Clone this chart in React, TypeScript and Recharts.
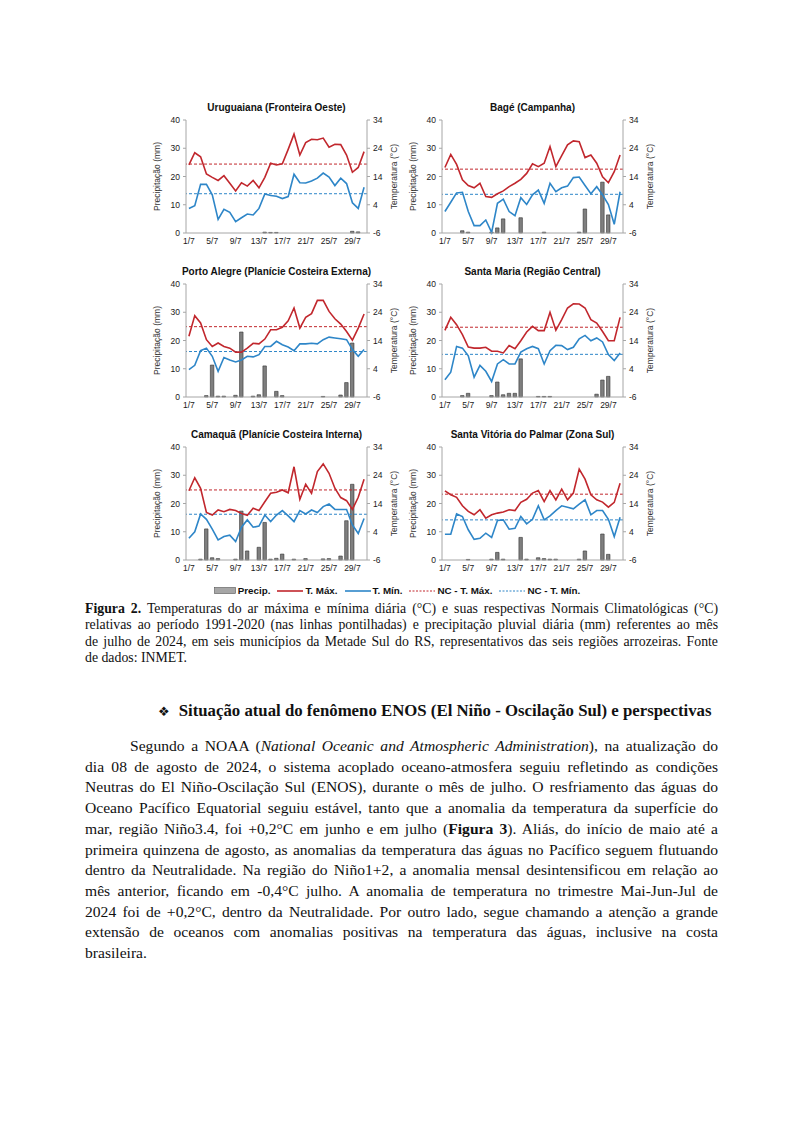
import { ComposedChart, Bar, Line, XAxis, YAxis, ReferenceLine } from "recharts";

const DAYS = [
  "1/7", "2/7", "3/7", "4/7", "5/7", "6/7", "7/7", "8/7", "9/7", "10/7",
  "11/7", "12/7", "13/7", "14/7", "15/7", "16/7", "17/7", "18/7", "19/7", "20/7",
  "21/7", "22/7", "23/7", "24/7", "25/7", "26/7", "27/7", "28/7", "29/7", "30/7", "31/7",
];
const PREC_TICKS = [0, 10, 20, 30, 40];
const TEMP_TICKS = [-6, -1, 4, 9, 14, 19, 24, 29, 34];

// Uruguaiana (Fronteira Oeste)
const uruTmax = [18.1, 22.4, 21.0, 14.9, 13.7, 12.6, 14.3, 11.6, 8.9, 11.8, 10.6, 12.6, 10.0, 13.7, 18.7, 18.1, 18.5, 23.6, 29.0, 21.6, 26.0, 27.2, 27.0, 27.6, 24.4, 25.4, 25.3, 21.6, 15.5, 17.2, 22.8];
const uruTmin = [2.7, 3.7, 11.2, 11.2, 7.5, -1.2, 2.4, 1.3, -2.0, -0.6, 0.7, 0.4, 2.7, 7.8, 7.3, 7.0, 6.2, 6.9, 14.8, 11.8, 11.7, 12.4, 13.4, 15.2, 13.8, 10.8, 13.4, 11.5, 4.7, 2.7, 10.2];
const uruPrec = [0, 0, 0, 0, 0, 0, 0, 0, 0, 0, 0, 0, 0, 0.3, 0.2, 0.2, 0, 0, 0, 0, 0, 0, 0, 0, 0, 0, 0, 0, 0.6, 0.4, 0];

// Bagé (Campanha)
const bageTmax = [17.2, 21.8, 18.3, 12.8, 10.8, 10.0, 11.6, 6.9, 6.6, 7.9, 8.9, 10.4, 11.6, 13.0, 15.1, 18.5, 17.5, 18.7, 24.6, 17.5, 21.4, 25.2, 26.6, 26.3, 20.7, 21.6, 18.7, 13.9, 11.8, 15.7, 21.6];
const bageTmin = [1.6, 4.9, 8.2, 8.4, 1.6, -3.4, -3.4, -1.4, -5.8, 4.5, 6.0, 1.6, 0.1, 6.5, 4.1, 7.5, 9.2, 4.5, 11.6, 8.6, 10.0, 10.6, 13.6, 13.8, 10.8, 7.9, 10.4, 7.5, 4.1, -2.9, 8.6];
const bagePrec = [0, 0, 0, 0.8, 0.3, 0, 0, 0, 0.3, 1.8, 5.0, 0, 0, 5.4, 0, 0, 0, 0.3, 0, 0, 0, 0, 0, 0.3, 8.5, 0, 0, 18.0, 6.4, 0, 0];

// Porto Alegre (Planície Costeira Externa)
const paTmax = [15.5, 22.8, 20.2, 14.3, 11.9, 13.1, 11.9, 11.3, 9.9, 9.9, 11.3, 13.0, 12.8, 14.5, 17.8, 17.8, 18.7, 21.0, 25.5, 18.4, 22.2, 23.5, 28.2, 28.2, 24.3, 21.7, 19.8, 17.2, 14.1, 18.4, 23.4];
const paTmin = [3.7, 5.2, 10.4, 11.3, 8.4, 3.1, 8.0, 7.1, 6.4, 7.1, 8.4, 8.2, 9.0, 11.9, 11.9, 13.7, 12.5, 11.7, 10.4, 12.8, 12.8, 13.0, 12.8, 14.3, 15.2, 14.9, 14.6, 14.3, 10.8, 8.4, 10.8];
const paPrec = [0, 0, 0, 0.5, 11.3, 0.3, 0.3, 0, 0.6, 23.0, 0, 0.3, 0.8, 11.0, 0, 2.0, 0.5, 0, 0, 0, 0, 0, 0, 0.2, 0, 0, 0.7, 5.1, 19.1, 0, 0];

// Santa Maria (Região Central)
const smTmax = [17.6, 22.2, 19.6, 16.1, 11.7, 11.3, 11.3, 11.6, 10.2, 10.2, 9.6, 12.2, 11.1, 13.9, 17.0, 19.0, 17.5, 17.5, 24.0, 17.6, 21.4, 25.5, 27.0, 26.9, 25.5, 21.4, 20.2, 17.2, 13.9, 13.9, 22.2];
const smTmin = [0.1, 2.8, 11.9, 11.3, 8.6, 1.0, 5.2, 3.1, -0.5, 5.7, 7.2, 5.7, 5.7, 9.9, 11.1, 11.9, 11.1, 5.7, 10.4, 12.3, 12.2, 10.8, 11.6, 14.6, 15.8, 13.9, 14.9, 13.5, 9.0, 6.9, 9.6];
const smPrec = [0, 0, 0, 0.5, 1.3, 0, 0, 0, 0.5, 5.3, 0.8, 1.3, 1.3, 13.5, 0, 0, 0.2, 0.2, 0.2, 0, 0, 0, 0, 0, 0, 0, 1.0, 6.0, 7.3, 0, 0];

// Camaquã (Planície Costeira Interna)
const camTmax = [18.5, 23.1, 19.4, 10.8, 9.9, 11.7, 11.1, 11.9, 11.5, 10.5, 9.8, 12.3, 11.5, 14.6, 17.6, 18.0, 18.8, 17.8, 27.0, 15.5, 20.8, 17.6, 25.3, 28.0, 24.7, 19.4, 16.1, 15.0, 11.9, 16.2, 22.6];
const camTmin = [1.7, 4.0, 10.3, 8.4, 4.9, 1.1, 2.3, 2.8, 0.5, 5.6, 8.2, 5.6, 6.0, 9.9, 7.6, 9.9, 11.5, 9.6, 7.6, 11.5, 10.3, 11.7, 10.8, 12.9, 13.8, 11.9, 11.9, 11.9, 6.4, 3.4, 8.7];
const camPrec = [0, 0, 0.3, 11.0, 0.8, 0.5, 0, 0, 0.3, 17.3, 3.2, 0, 4.5, 13.3, 0.3, 0.6, 2.1, 0, 0.3, 0, 0.5, 0, 0, 0.4, 0.5, 0, 1.4, 13.9, 26.8, 0, 0];

// Santa Vitória do Palmar (Zona Sul)
const svpTmax = [18.5, 17.1, 16.2, 13.2, 11.2, 10.0, 11.8, 8.8, 10.0, 10.6, 11.0, 11.8, 11.5, 14.4, 15.5, 17.7, 18.6, 14.7, 18.6, 15.3, 19.1, 15.3, 17.7, 26.2, 22.6, 17.1, 15.3, 14.5, 12.7, 14.4, 21.2];
const svpTmin = [3.1, 3.1, 10.3, 9.4, 4.7, 1.3, 1.7, 3.5, 2.0, 8.0, 8.2, 4.9, 5.2, 9.4, 6.8, 8.4, 13.2, 8.2, 9.6, 11.5, 13.2, 12.7, 12.1, 13.8, 15.3, 10.0, 11.5, 11.5, 8.4, 2.3, 9.1];
const svpPrec = [0, 0, 0, 0, 0.2, 0, 0, 0, 0.3, 2.7, 0.3, 0, 0, 8.0, 0.3, 0, 0.8, 0.5, 0.3, 0.3, 0, 0, 0, 0.3, 3.2, 0, 0, 9.2, 2.0, 0, 0];

// normais climatológicas 1991-2020 (°C)
const ncMax = [18.4, 16.6, 18.9, 18.7, 18.8, 17.3];
const ncMin = [7.9, 7.7, 10.1, 9.1, 10.2, 8.2];

const stations = [
  { title: "Uruguaiana (Fronteira Oeste)", tmax: uruTmax, tmin: uruTmin, prec: uruPrec, col: 0, row: 0 },
  { title: "Bagé (Campanha)", tmax: bageTmax, tmin: bageTmin, prec: bagePrec, col: 1, row: 0 },
  { title: "Porto Alegre (Planície Costeira Externa)", tmax: paTmax, tmin: paTmin, prec: paPrec, col: 0, row: 1 },
  { title: "Santa Maria (Região Central)", tmax: smTmax, tmin: smTmin, prec: smPrec, col: 1, row: 1 },
  { title: "Camaquã (Planície Costeira Interna)", tmax: camTmax, tmin: camTmin, prec: camPrec, col: 0, row: 2 },
  { title: "Santa Vitória do Palmar (Zona Sul)", tmax: svpTmax, tmin: svpTmin, prec: svpPrec, col: 1, row: 2 },
];

const RED = "#c1272d";
const BLUE = "#2e86c8";
const AXIS = "#a6a6a6";
const SANS = "'Liberation Sans', Arial, sans-serif";
const SERIF = "'Liberation Serif', 'Times New Roman', serif";

const PLOT_LEFT = [186, 442];
const PLOT_TOP = [120, 284, 447];
const PLOT_W = 181;
const PLOT_H = 113;
const AX_W = 38;
const TOP_M = 22;
const X_H = 18;

const tickStyle = { fontSize: 8.5, fill: "#1a1a1a", fontFamily: SANS };

function StationChart({ s, idx }: { s: any; idx: number }) {
  const data = DAYS.map((d, i) => ({ day: d, tmax: s.tmax[i], tmin: s.tmin[i], prec: s.prec[i] }));
  const left = PLOT_LEFT[s.col] - AX_W;
  const top = PLOT_TOP[s.row] - TOP_M;
  const w = AX_W * 2 + PLOT_W;
  const h = TOP_M + PLOT_H + X_H;
  return (
    <div style={{ position: "absolute", left, top, width: w, height: h }}>
      <div
        style={{
          position: "absolute",
          left: AX_W - 20,
          width: PLOT_W + 40,
          top: 4,
          textAlign: "center",
          fontFamily: SANS,
          fontWeight: "bold",
          fontSize: 10,
          whiteSpace: "nowrap",
          color: "#111",
        }}
      >
        {s.title}
      </div>
      <ComposedChart width={w} height={h} data={data} margin={{ top: TOP_M, right: 0, bottom: 0, left: 0 }}>
        <XAxis
          dataKey="day"
          interval={3}
          tick={tickStyle}
          tickLine={false}
          tickSize={3}
          tickMargin={2}
          axisLine={{ stroke: AXIS }}
          height={X_H}
        />
        <XAxis xAxisId="top" orientation="top" dataKey="day" tick={false} tickLine={false} axisLine={{ stroke: "#c8c8c8" }} height={0} />
        <YAxis
          yAxisId="p"
          domain={[0, 40]}
          ticks={PREC_TICKS}
          width={AX_W}
          tick={tickStyle}
          tickSize={3}
          tickMargin={3}
          tickLine={{ stroke: AXIS }}
          axisLine={{ stroke: AXIS }}
          label={{ value: "Precipitação (mm)", angle: -90, position: "center", dx: -10, style: { fontSize: 8.5, fill: "#333", fontFamily: SANS } }}
        />
        <YAxis
          yAxisId="t"
          orientation="right"
          domain={[-6, 34]}
          ticks={TEMP_TICKS}
          width={AX_W}
          tick={tickStyle}
          tickSize={3}
          tickMargin={3}
          tickLine={{ stroke: AXIS }}
          axisLine={{ stroke: AXIS }}
          label={{ value: "Temperatura (°C)", angle: -90, position: "center", dx: 8, style: { fontSize: 8.5, fill: "#333", fontFamily: SANS } }}
        />
        <Bar yAxisId="p" dataKey="prec" fill="#7f7f7f" stroke="#333" strokeWidth={0.6} barSize={3.5} isAnimationActive={false} />
        <ReferenceLine yAxisId="t" y={ncMax[idx]} stroke={RED} strokeWidth={1} strokeDasharray="3 2" />
        <ReferenceLine yAxisId="t" y={ncMin[idx]} stroke={BLUE} strokeWidth={1} strokeDasharray="3 2" />
        <Line yAxisId="t" dataKey="tmax" stroke={RED} strokeWidth={1.6} dot={false} isAnimationActive={false} />
        <Line yAxisId="t" dataKey="tmin" stroke={BLUE} strokeWidth={1.6} dot={false} isAnimationActive={false} />
      </ComposedChart>
    </div>
  );
}

function LegendLine({ color, dashed }: { color: string; dashed?: boolean }) {
  return (
    <svg width={26} height={6} style={{ marginRight: 2 }}>
      <line x1={0} y1={3} x2={26} y2={3} stroke={color} strokeWidth={dashed ? 1 : 1.6} strokeDasharray={dashed ? "2 1.5" : undefined} />
    </svg>
  );
}

const legendItem = { display: "flex", alignItems: "center", marginRight: 7 };

function SharedLegend() {
  return (
    <div
      style={{
        position: "absolute",
        left: 0,
        width: 801,
        top: 585,
        display: "flex",
        justifyContent: "center",
        fontFamily: SANS,
        fontWeight: "bold",
        fontSize: 9.8,
        color: "#111",
      }}
    >
      <div style={legendItem}>
        <svg width={22} height={7} style={{ marginRight: 2 }}>
          <rect x={0.5} y={0.5} width={21} height={6} fill="#a6a6a6" stroke="#555" strokeWidth={0.6} />
        </svg>
        Precip.
      </div>
      <div style={legendItem}>
        <LegendLine color={RED} />
        T. Máx.
      </div>
      <div style={legendItem}>
        <LegendLine color={BLUE} />
        T. Mín.
      </div>
      <div style={legendItem}>
        <LegendLine color={RED} dashed />
        NC - T. Máx.
      </div>
      <div style={legendItem}>
        <LegendLine color={BLUE} dashed />
        NC - T. Mín.
      </div>
    </div>
  );
}

const justLine = { textAlign: "justify" as const, textAlignLast: "justify" as const, whiteSpace: "normal" as const };

const caption = [
  <>
    <b>Figura 2.</b> Temperaturas do ar máxima e mínima diária (°C) e suas respectivas Normais Climatológicas (°C)
  </>,
  <>relativas ao período 1991-2020 (nas linhas pontilhadas) e precipitação pluvial diária (mm) referentes ao mês</>,
  <>de julho de 2024, em seis municípios da Metade Sul do RS, representativos das seis regiões arrozeiras. Fonte</>,
];

const body = [
  <>
    Segundo a NOAA (<i>National Oceanic and Atmospheric Administration</i>), na atualização do
  </>,
  <>dia 08 de agosto de 2024, o sistema acoplado oceano-atmosfera seguiu refletindo as condições</>,
  <>Neutras do El Niño-Oscilação Sul (ENOS), durante o mês de julho. O resfriamento das águas do</>,
  <>Oceano Pacífico Equatorial seguiu estável, tanto que a anomalia da temperatura da superfície do</>,
  <>
    mar, região Niño3.4, foi +0,2°C em junho e em julho (<b>Figura 3</b>). Aliás, do início de maio até a
  </>,
  <>primeira quinzena de agosto, as anomalias da temperatura das águas no Pacífico seguem flutuando</>,
  <>dentro da Neutralidade. Na região do Niño1+2, a anomalia mensal desintensificou em relação ao</>,
  <>mês anterior, ficando em -0,4°C julho. A anomalia de temperatura no trimestre Mai-Jun-Jul de</>,
  <>2024 foi de +0,2°C, dentro da Neutralidade. Por outro lado, segue chamando a atenção a grande</>,
  <>extensão de oceanos com anomalias positivas na temperatura das águas, inclusive na costa</>,
];

export default function App() {
  return (
    <div style={{ position: "absolute", left: 0, top: 0, width: 801, height: 1132, background: "#fff", overflow: "hidden" }}>
      {stations.map((s, i) => (
        <StationChart key={s.title} s={s} idx={i} />
      ))}
      <SharedLegend />
      <div style={{ position: "absolute", left: 85, top: 601, width: 633, fontFamily: SERIF, fontSize: 13.8, lineHeight: "16.3px", color: "#111" }}>
        {caption.map((c, i) => (
          <div key={i} style={justLine}>
            {c}
          </div>
        ))}
        <div>de dados: INMET.</div>
      </div>
      <div style={{ position: "absolute", left: 158, top: 701, fontFamily: SERIF, fontSize: 16.8, fontWeight: "bold", lineHeight: "20px", color: "#111", whiteSpace: "nowrap" }}>
        <span style={{ fontFamily: "DejaVu Sans", fontSize: 13, marginRight: 9 }}>❖</span>
        Situação atual do fenômeno ENOS (El Niño - Oscilação Sul) e perspectivas
      </div>
      <div style={{ position: "absolute", left: 85, top: 736, width: 633, fontFamily: SERIF, fontSize: 15.6, lineHeight: "20.7px", color: "#111" }}>
        {body.map((c, i) => (
          <div key={i} style={{ ...justLine, textIndent: i === 0 ? 45 : 0 }}>
            {c}
          </div>
        ))}
        <div>brasileira.</div>
      </div>
    </div>
  );
}
